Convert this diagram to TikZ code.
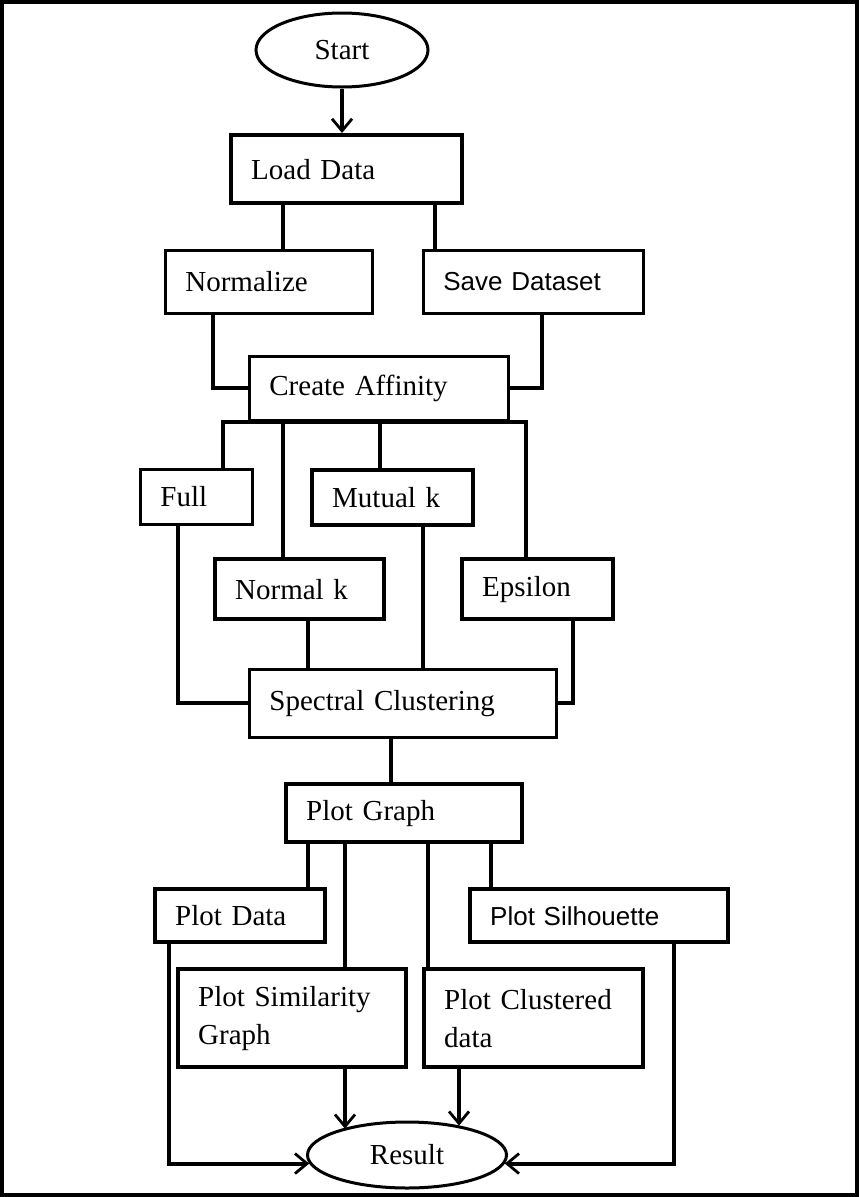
\documentclass[tikz,border=0pt]{standalone}
\usepackage{fontspec}
\setmainfont{Liberation Serif}
\newfontfamily\sansf{Liberation Sans}
\usetikzlibrary{arrows.meta,shapes.geometric}
\begin{document}
\begin{tikzpicture}[x=1pt,y=-1pt,
  box/.style={draw, line width=2.8pt, anchor=north west, inner xsep=20pt, inner ysep=0pt, align=left, font=\fontsize{29}{38}\selectfont},
  heavy/.style={line width=4.4pt},
  sanstext/.style={font=\sansf\fontsize{26}{31}\selectfont},
  oval/.style={draw, ellipse, line width=3pt, inner sep=0pt, font=\fontsize{29}{38}\selectfont},
  link/.style={line width=4pt, line join=miter},
  arr/.style={line width=4pt, line join=miter, -{Straight Barb[length=12pt,width=20pt,line width=2.8pt]}}
]
\useasboundingbox (0,0) rectangle (859,1197);
\draw[line width=4pt] (2,2) rectangle (857,1195);

% nodes
\node[oval, minimum width=172pt, minimum height=74pt] (start) at (342,50) {Start};
\node[box, heavy, text width=191pt, minimum height=68pt] (load) at (229,133) {Load Data};
\node[box, text width=167pt, minimum height=63pt] (norm) at (164,249) {Normalize};
\node[box, sanstext, text width=180pt, minimum height=63pt] (save) at (422,249) {Save Dataset};
\node[box, text width=219pt, minimum height=64pt] (aff) at (248,355) {Create Affinity};
\node[box, text width=72pt, minimum height=55pt] (full) at (139,468) {Full};
\node[box, heavy, text width=121pt, minimum height=55pt] (mutual) at (310,468) {Mutual k};
\node[box, heavy, text width=129pt, minimum height=60pt] (normk) at (213,557) {Normal k};
\node[box, heavy, text width=111pt, minimum height=60pt] (eps) at (460,557) {Epsilon};
\node[box, text width=267pt, minimum height=68pt] (spec) at (248,668) {Spectral Clustering};
\node[box, heavy, text width=196pt, minimum height=58pt] (pgraph) at (284,782) {Plot Graph};
\node[box, heavy, text width=130pt, minimum height=53pt] (pdata) at (153,887) {Plot Data};
\node[box, heavy, sanstext, text width=218pt, minimum height=53pt] (psil) at (468,887) {Plot Silhouette};
\node[box, heavy, text width=188pt, minimum height=98pt] (psim) at (176,967) {Plot Similarity\\Graph};
\node[box, heavy, text width=179pt, minimum height=98pt] (pclus) at (422,967) {Plot Clustered\\data};
\node[oval, minimum width=199pt, minimum height=66pt] (result) at (407,1155) {Result};

% x positions of connectors
\coordinate (xa) at (283,0);
\coordinate (xb) at (435,0);
\coordinate (xc) at (213,0);
\coordinate (xd) at (542,0);
\coordinate (xe) at (223,0);
\coordinate (xf) at (380,0);
\coordinate (xh) at (526,0);
\coordinate (xi) at (178,0);
\coordinate (xj) at (573,0);
\coordinate (xk) at (308,0);
\coordinate (xl) at (423,0);
\coordinate (xm) at (391,0);
\coordinate (xn) at (345,0);
\coordinate (xo) at (428,0);
\coordinate (xp) at (491,0);
\coordinate (xq) at (169,0);
\coordinate (xr) at (674,0);
\coordinate (xs) at (459,0);

% connectors
\draw[arr] (start.south) -- (start.south |- load.north);
\draw[link] (xa |- load.south) -- (xa |- norm.north);
\draw[link] (xb |- load.south) -- (xb |- save.north);
\draw[link] (xc |- norm.south) |- (aff.west);
\draw[link] (xd |- save.south) |- (aff.east);
\draw[link] (xe |- full.north) -- (xe |- aff.south) -- (xh |- aff.south) -- (xh |- eps.north);
\draw[link] (xa |- aff.south) -- (xa |- normk.north);
\draw[link] (xf |- aff.south) -- (xf |- mutual.north);
\draw[link] (xi |- full.south) |- (spec.west);
\draw[link] (xj |- eps.south) |- (spec.east);
\draw[link] (xk |- normk.south) -- (xk |- spec.north);
\draw[link] (xl |- mutual.south) -- (xl |- spec.north);
\draw[link] (xm |- spec.south) -- (xm |- pgraph.north);
\draw[link] (xk |- pgraph.south) -- (xk |- pdata.north);
\draw[link] (xn |- pgraph.south) -- (xn |- psim.north);
\draw[link] (xo |- pgraph.south) -- (xo |- pclus.north);
\draw[link] (xp |- pgraph.south) -- (xp |- psil.north);
\draw[arr] (xq |- pdata.south) |- (result.185);
\draw[arr] (xr |- psil.south) |- (result.-5);
\draw[arr] (xn |- psim.south) -- (xn |- result.158);
\draw[arr] (xs |- pclus.south) -- (xs |- result.29);
\end{tikzpicture}
\end{document}
